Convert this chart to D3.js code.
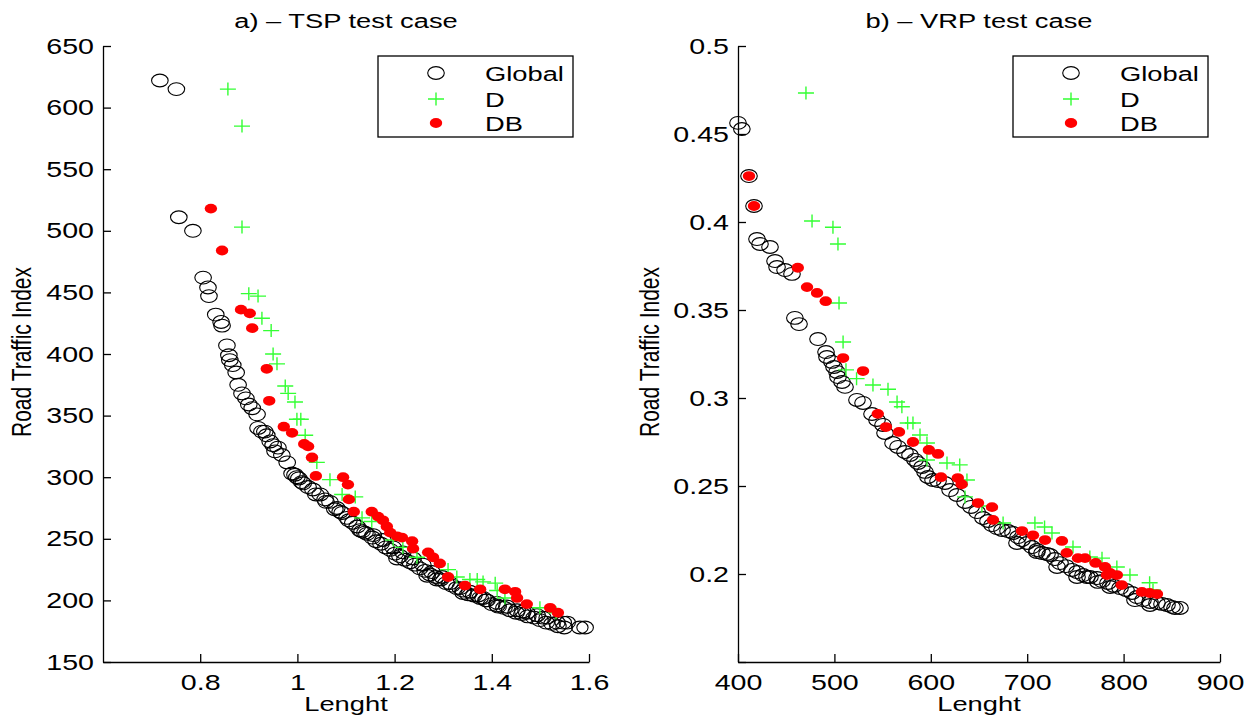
<!DOCTYPE html>
<html><head><meta charset="utf-8">
<script src="https://cdn.jsdelivr.net/npm/d3@7"></script>
<style>
body{margin:0;background:#fff}
svg{display:block}
text{font-family:"Liberation Sans",Arial,Helvetica,sans-serif;fill:#000}
</style>
</head><body><svg id="c" width="1246" height="715"></svg>
<script>
// ---------- DATA ----------
const seriesNames = ["Global", "D", "DB"];
const titles = ["a) \u2013 TSP test case", "b) \u2013 VRP test case"];
const xLabel = "Lenght";
const yLabel = "Road Traffic Index";

const tspXTicks = [0.8, 1, 1.2, 1.4, 1.6];
const tspYTicks = [150, 200, 250, 300, 350, 400, 450, 500, 550, 600, 650];
const vrpXTicks = [400, 500, 600, 700, 800, 900];
const vrpYTicks = [0.15, 0.2, 0.25, 0.3, 0.35, 0.4, 0.45, 0.5];

const tspGlobal = [
[0.717,622],[0.751,615],[0.756,511],[0.785,500],[0.806,462],[0.816,454],[0.818,447],[0.832,432],[0.843,426],[0.845,423],
[0.855,407],[0.859,399],[0.861,395],[0.867,391],[0.874,385],[0.878,375],[0.886,368],[0.894,364],[0.9,359],[0.907,356],
[0.917,351],[0.919,340],[0.927,337],[0.937,334],[0.944,329],[0.95,326],[0.96,324],[0.968,318],[0.979,312],[0.989,303],
[0.999,300],[1.009,296],[1.022,292],[1.032,290],[1.047,286],[1.057,282],[1.067,280],[1.081,275],[1.092,271],[1.102,267],
[1.114,263],[1.129,257],[1.139,255],
[0.933,337],[0.954,321],[0.995,302],[1.003,299],[1.012,295],[1.038,286],[1.059,280],[1.077,274],[1.088,272],[1.106,265],
[1.123,260],[1.133,256],[1.143,254],[1.154,251],[1.162,248],[1.172,246],[1.182,243],[1.191,241],[1.201,238],[1.211,236],
[1.221,233],[1.232,231],[1.242,229],[1.252,226],[1.263,224],[1.273,221],[1.285,219],[1.295,217],[1.306,214],[1.318,212],
[1.328,210],[1.341,208],[1.351,205],[1.363,204],[1.376,202],[1.388,200],[1.4,197],[1.413,195],[1.425,194],[1.437,192],
[1.45,190],[1.462,189],[1.474,187],[1.487,186],[1.499,184],[1.512,182],[1.524,181],[1.536,179],[1.549,178],
[1.156,253],[1.176,249],[1.197,243],[1.217,239],[1.238,234],[1.258,229],[1.277,223],[1.298,219],[1.314,214],[1.335,210],
[1.355,207],[1.372,204],[1.39,200],[1.411,198],[1.431,195],[1.452,192],[1.472,190],[1.493,188],[1.514,186],[1.534,182],
[1.555,182],[1.581,178],[1.592,178],
[1.205,234],[1.267,220],[1.287,217],[1.341,206],[1.382,202],[1.411,196],[1.464,191],[1.505,186],[1.547,182]
];
const tspD = [
[0.857,615],[0.886,585],[0.886,503],[0.9,449],[0.919,447],[0.927,429],[0.946,419],[0.95,400],[0.958,392],[0.975,374],
[0.981,368],[0.995,361],[0.999,347],[1.007,347],[1.016,334],[1.04,312],[1.067,298],[1.092,286],[1.119,284],[1.133,267],
[1.153,264],[1.197,249],[1.217,243],[1.246,235],[1.31,225],[1.328,219],[1.355,217],[1.37,217],[1.382,215],[1.407,214],
[1.411,208],[1.427,202],[1.499,194],[1.532,190]
];
const tspDB = [
[0.822,518],[0.845,484],[0.884,436],[0.902,433],[0.907,421],[0.937,388],[0.942,362],[0.972,341],[0.989,336],[1.014,327],
[1.022,325],[1.03,316],[1.038,301],[1.094,300],[1.104,294],[1.106,282],[1.116,272],[1.153,272],[1.166,268],[1.176,265],
[1.184,260],[1.191,255],[1.205,252],[1.215,251],[1.236,248],[1.238,242],[1.269,239],[1.279,235],[1.293,230],[1.31,219],
[1.345,212],[1.376,209],[1.427,209],[1.448,207],[1.452,202],[1.472,197],[1.52,194],[1.536,190]
];

const vrpGlobal = [
[400,0.4563],[404,0.4528],[411.4,0.4261],[416.6,0.4091],[419.7,0.3903],[422.8,0.3875],[433.2,0.3858],[438.4,0.3778],[440.5,0.3744],[448.8,0.3727],
[456,0.3705],[459,0.3455],[463.3,0.342],[483,0.3335],[491.3,0.3261],[492.3,0.3233],[497.5,0.3205],[499.6,0.3176],[502.7,0.3148],[503.7,0.3119],
[507.9,0.3091],[511,0.3063],[523.4,0.2989],[529.7,0.2972],[539,0.2909],[544.2,0.2875],[550.4,0.2847],[552.5,0.2801],[560.8,0.2744],[566,0.2722],
[573.2,0.2693],[578.4,0.2676],[583.6,0.2648],[586.7,0.2631],[590.9,0.2608],[594,0.258],[597.1,0.2551],[602.3,0.2534],[607.5,0.2528],[614.7,0.2517],
[620,0.2477],[627.2,0.2449],[635.5,0.2409],[641.7,0.2381],[648,0.2352],[654.1,0.2318],[659.3,0.2301],[663.5,0.2278],[668.7,0.2261],[673.9,0.225],
[680.1,0.2244],[685.3,0.2233],[690.5,0.221],[694.6,0.2193],[699.8,0.2176],[705,0.2153],[710.2,0.2136],[715.4,0.2119],[720.5,0.2114],[723.7,0.2108],
[728.8,0.2085],[734,0.2062],[740.2,0.2045],[746.5,0.2023],[751.7,0.2011],[757.9,0.1994],[765.1,0.1983],[772.4,0.1977],[777.6,0.196],[783.8,0.1949],
[790,0.1932],[796.3,0.192],[802.5,0.1909],[808.7,0.1892],[813.9,0.1869],[820.1,0.1852],[827.4,0.1841],[834.6,0.1835],[839.8,0.183],[845,0.1824],
[850.2,0.1813],[853.3,0.1807],[858.5,0.1807],
[689.4,0.2176],[710,0.2125],[731,0.204],[751.7,0.1983],[762,0.1983],[773.4,0.1955],[786,0.1926],[811.8,0.1852],[827.4,0.1824]
];
const vrpD = [
[470.5,0.4733],[476.8,0.4006],[498.5,0.397],[503.7,0.3875],[504.8,0.354],[509,0.3318],[512,0.316],[523,0.311],[540,0.3074],[555.6,0.305],
[565,0.2977],[570,0.295],[576,0.2858],[581.5,0.2858],[588.8,0.279],[596,0.2744],[596,0.2648],[616.8,0.2631],[630,0.262],[637.5,0.2534],
[635.5,0.2438],[653,0.2386],[675,0.229],[708,0.229],[718,0.2267],[725.7,0.2233],[747.5,0.2153],[765,0.2097],[777.6,0.209],[793,0.204],
[806.6,0.1994],[827,0.195],[830.5,0.1909]
];
const vrpDB = [
[411.4,0.4261],[416.6,0.4091],[462,0.374],[471.6,0.363],[482,0.3597],[491,0.355],[509,0.3227],[529.7,0.3153],[545,0.291],[553.5,0.2835],
[567,0.2807],[581.5,0.275],[598,0.2705],[607.5,0.2682],[610.6,0.255],[628,0.2545],[632,0.251],[649,0.2403],[663.5,0.238],[664.5,0.2307],
[694.6,0.2244],[706,0.222],[718.5,0.2193],[736,0.2188],[741,0.212],[752.7,0.209],[760,0.209],[771,0.2063],[780.7,0.204],[782.8,0.1994],
[785.9,0.2006],[793,0.1994],[798,0.1937],[819,0.1898],[827,0.1892],[834.6,0.1886]
];

// ---------- DRAWING ----------
const SX = 1.3;           // horizontal stretch of the original figure
const FONT = 21;
const svg = d3.select("#c");
svg.append("rect").attr("width",1246).attr("height",715).attr("fill","#fff");

function stretchedText(g, x, y, str, anchor, size, rot) {
  return g.append("text")
    .attr("transform", `translate(${x},${y}) scale(${SX},1)` + (rot ? ` rotate(${rot})` : ""))
    .attr("text-anchor", anchor).attr("font-size", size).text(str);
}
function drawGlobal(g, data, x, y) {
  g.append("g").selectAll("ellipse").data(data).join("ellipse")
    .attr("cx", d => x(d[0])).attr("cy", d => y(d[1]))
    .attr("rx", 8.3).attr("ry", 6.4)
    .attr("fill", "none").attr("stroke", "#000").attr("stroke-width", 1.1);
}
function drawD(g, data, x, y) {
  g.append("g").selectAll("path").data(data).join("path")
    .attr("d", d => `M${x(d[0])-8},${y(d[1])}h16M${x(d[0])},${y(d[1])-6.5}v13`)
    .attr("stroke", "#33ff33").attr("stroke-width", 1.4).attr("fill", "none");
}
function drawDB(g, data, x, y) {
  g.append("g").selectAll("ellipse").data(data).join("ellipse")
    .attr("cx", d => x(d[0])).attr("cy", d => y(d[1]))
    .attr("rx", 6.2).attr("ry", 4.9).attr("fill", "#ff0000");
}

function panel(cfg) {
  const x = d3.scaleLinear().domain(cfg.xDomain).range([cfg.left, cfg.right]);
  const y = d3.scaleLinear().domain(cfg.yDomain).range([662, 46]);
  const g = svg.append("g");

  const styleAxis = sel => {
    sel.select(".domain").attr("stroke", "#000").attr("stroke-width", 1.3);
    sel.selectAll(".tick line").attr("stroke", "#000").attr("stroke-width", 1.3);
    sel.selectAll("text").attr("font-size", 22).attr("fill", "#000")
      .attr("font-family", "'Liberation Sans',Arial,sans-serif")
      .each(function() {
        const t = d3.select(this);
        const xx = +t.attr("x") || 0;
        t.attr("x", xx / SX).attr("transform", `scale(${SX},1)`);
      });
    sel.attr("font-family", null);
  };

  g.append("g").attr("transform", "translate(0,662)")
    .call(d3.axisBottom(x).tickValues(cfg.xTicks).tickSizeInner(-8).tickSizeOuter(0)
      .tickPadding(12).tickFormat(d3.format("~g")))
    .call(styleAxis)
    .selectAll(".tick").filter(d => !cfg.xLabelled.includes(d)).select("text").remove();

  g.append("g").attr("transform", `translate(${cfg.left},0)`)
    .call(d3.axisLeft(y).tickValues(cfg.yTicks).tickSizeInner(-8).tickSizeOuter(0)
      .tickPadding(9).tickFormat(d3.format("~g")))
    .call(styleAxis)
    .selectAll(".tick").filter(d => !cfg.yLabelled.includes(d)).select("text").remove();

  drawGlobal(g, cfg.global, x, y);
  drawD(g, cfg.d, x, y);
  drawDB(g, cfg.db, x, y);

  const cx = (cfg.left + cfg.right) / 2;
  stretchedText(g, cx, 28, cfg.title, "middle", FONT);
  stretchedText(g, cx, 711, xLabel, "middle", FONT);
  stretchedText(g, cfg.yLabelX, 352, yLabel, "middle", FONT, -90);

  // legend
  const lx = cfg.legendX;
  const lg = g.append("g");
  lg.append("rect").attr("x", lx).attr("y", 56).attr("width", 195).attr("height", 81)
    .attr("fill", "#fff").attr("stroke", "#000").attr("stroke-width", 1.3);
  const mx = lx + 58;
  const rows = [73, 99, 123];
  lg.append("ellipse").attr("cx", mx).attr("cy", rows[0]).attr("rx", 8.3).attr("ry", 6.4)
    .attr("fill", "none").attr("stroke", "#000").attr("stroke-width", 1.1);
  lg.append("path").attr("d", `M${mx-8},${rows[1]}h16M${mx},${rows[1]-6.5}v13`)
    .attr("stroke", "#33ff33").attr("stroke-width", 1.4);
  lg.append("ellipse").attr("cx", mx).attr("cy", rows[2]).attr("rx", 6.2).attr("ry", 4.9)
    .attr("fill", "#ff0000");
  seriesNames.forEach((s, i) => stretchedText(lg, lx + 107, rows[i] + 8, s, "start", FONT));
}

panel({
  xDomain: [0.6, 1.6], yDomain: [150, 650], left: 103, right: 589,
  xTicks: tspXTicks, yTicks: tspYTicks, xLabelled: tspXTicks, yLabelled: tspYTicks,
  global: tspGlobal, d: tspD, db: tspDB, title: titles[0], yLabelX: 31, legendX: 378
});
panel({
  xDomain: [400, 900], yDomain: [0.15, 0.5], left: 738, right: 1220,
  xTicks: vrpXTicks, yTicks: vrpYTicks, xLabelled: vrpXTicks, yLabelled: vrpYTicks.slice(1),
  global: vrpGlobal, d: vrpD, db: vrpDB, title: titles[1], yLabelX: 659, legendX: 1013
});
</script>
</body></html>
